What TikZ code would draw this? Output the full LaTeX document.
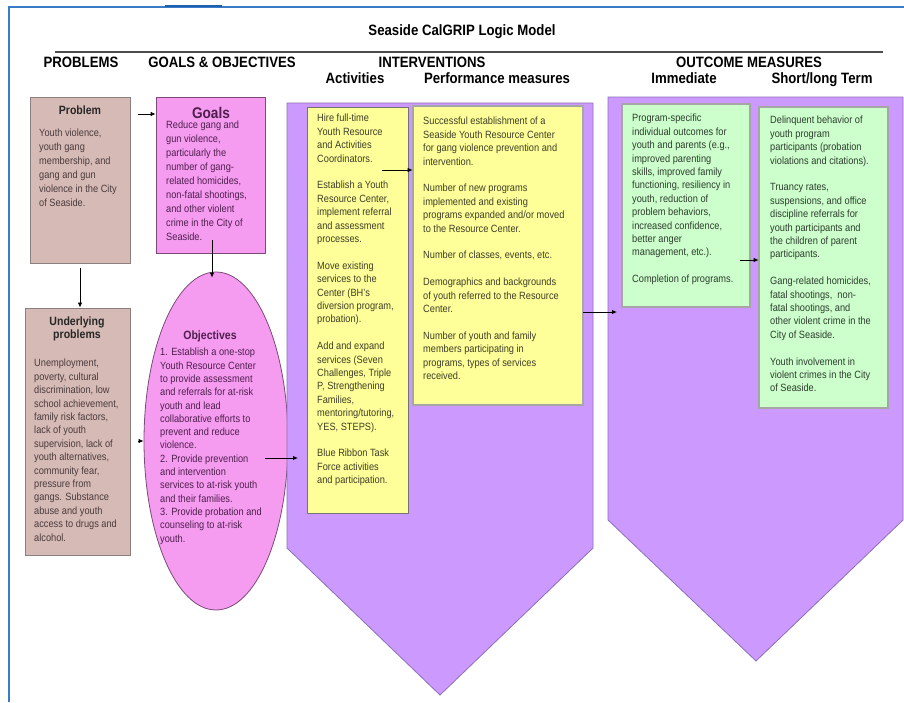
\documentclass[tikz,border=0pt]{standalone}
\usepackage{fontspec}
\setmainfont[FakeStretch=0.88]{Liberation Sans}
\usetikzlibrary{arrows.meta,shapes.geometric}
\definecolor{probfill}{HTML}{D6BAB6}
\definecolor{probline}{HTML}{8C7F7F}
\definecolor{pinkfill}{HTML}{F69CF0}
\definecolor{pinkline}{HTML}{7A4A78}
\definecolor{lavfill}{HTML}{CC99FF}
\definecolor{lavline}{HTML}{8E6FB6}
\definecolor{yelfill}{HTML}{FFFF99}
\definecolor{grnfill}{HTML}{CCFFCC}
\definecolor{framec}{HTML}{3A7BC8}
\definecolor{framedark}{HTML}{1F5FAF}
\definecolor{probtext}{HTML}{4A3C3C}
\definecolor{pinktext}{HTML}{4E1F4E}
\definecolor{yeltext}{HTML}{3E3E28}
\definecolor{grntext}{HTML}{2E3C2E}
\newcommand\bodyfs{\fontsize{10.5pt}{13.4pt}\selectfont}
\newcommand\bodyfw{\fontsize{10.5pt}{14pt}\selectfont}
\begin{document}
\begin{tikzpicture}[x=1pt,y=-1pt,
  hdr/.style={inner sep=0pt, anchor=base, font=\fontsize{15pt}{17pt}\selectfont\bfseries},
  btitle/.style={inner sep=0pt, align=center, font=\fontsize{12pt}{13.5pt}\selectfont\bfseries},
  txt/.style={anchor=north west, inner sep=0pt, align=left, font=\bodyfs},
  probbox/.style={draw=probline, line width=0.9pt, fill=probfill, inner sep=0pt},
  pinkbox/.style={draw=pinkline, line width=0.8pt, fill=pinkfill, inner sep=0pt},
  actbox/.style={draw=black!55, line width=0.8pt, fill=yelfill, inner sep=0pt},
  dblbox/.style={draw=black!70, line width=0.8pt, double=black!35, double distance=1.2pt, inner sep=0pt},
  pent/.style={draw=lavline, line width=0.8pt, fill=lavfill},
  arr/.style={draw=black, line width=0.8pt, -{Latex[length=5pt,width=4.5pt]}}
]
\useasboundingbox (0,0) rectangle (904,702);
\fill[white] (0,0) rectangle (904,702);

% frame
\draw[framec, line width=2.5pt] (9,702) -- (9,7) -- (904,7);
\draw[framedark, line width=2pt] (165,5.5) -- (222,5.5);

% title and headers
\node[hdr] (title) at (462,35) {Seaside CalGRIP Logic Model};
\draw[black!70, line width=1.5pt] (55,52) -- (883,52);
\node[hdr] (hprob) at (81,67) {PROBLEMS};
\node[hdr] (hgoal) at (222,67) {GOALS \& OBJECTIVES};
\node[hdr] (hint) at (432,67) {INTERVENTIONS};
\node[hdr] (hout) at (749,67) {OUTCOME MEASURES};
\node[hdr] (hact) at (355,83) {Activities};
\node[hdr] (hperf) at (497,83) {Performance measures};
\node[hdr] (himm) at (684,83) {Immediate};
\node[hdr] (hshort) at (822,83) {Short/long Term};

% objectives ellipse
\node[pinkbox, ellipse, minimum width=144pt, minimum height=338pt] (obj) at (216,441) {};

% pentagons
\draw[pent] (287,103) -- (593,103) -- (593,548) -- (440,695) -- (287,548) -- cycle;
\draw[pent] (608,97) -- (903,97) -- (903,520) -- (756,661) -- (608,520) -- cycle;

% boxes
\node[probbox, minimum width=100pt, minimum height=166pt] (prob) at (80,180) {};
\node[pinkbox, minimum width=109pt, minimum height=156pt] (goals) at (210.5,175) {};
\node[probbox, minimum width=105pt, minimum height=247pt] (under) at (77.5,431.5) {};
\node[actbox, minimum width=101pt, minimum height=406pt] (act) at (357.5,310) {};
\node[dblbox, fill=yelfill, minimum width=170pt, minimum height=299pt] (perf) at (498,255.5) {};
\node[dblbox, fill=grnfill, minimum width=128pt, minimum height=203pt] (imm) at (686,205.5) {};
\node[dblbox, fill=grnfill, minimum width=129pt, minimum height=301pt] (short) at (823.5,257.5) {};

% titles
\node[btitle, font=\fontsize{12pt}{13pt}\selectfont\bfseries, text=black!85] (tprob) at (80,110) {Problem};
\node[btitle, font=\fontsize{15.5pt}{16pt}\selectfont\bfseries, text=pinktext] (tgoal) at (211,113) {Goals};
\node[btitle, text=black!85] (tunder) at (77,329) {Underlying\\problems};
\node[btitle, text=pinktext] (tobj) at (210,336) {Objectives};

% texts
\node[txt, font=\bodyfw, text=probtext] (xprob) at (39,129) {Youth violence,\\youth gang\\membership, and\\gang and gun\\violence in the City\\of Seaside.};
\node[txt, font=\bodyfw, text=pinktext] (xgoal) at (166,121) {Reduce gang and\\gun violence,\\particularly the\\number of gang-\\related homicides,\\non-fatal shootings,\\and other violent\\crime in the City of\\Seaside.};
\node[txt, text=probtext] (xunder) at (34,359) {Unemployment,\\poverty, cultural\\discrimination, low\\school achievement,\\family risk factors,\\lack of youth\\supervision, lack of\\youth alternatives,\\community fear,\\pressure from\\gangs. Substance\\abuse and youth\\access to drugs and\\alcohol.};
\node[txt, font=\fontsize{10.5pt}{13.3pt}\selectfont, text=pinktext] (xobj) at (160,348) {1. Establish a one-stop\\Youth Resource Center\\to provide assessment\\and referrals for at-risk\\youth and lead\\collaborative efforts to\\prevent and reduce\\violence.\\2. Provide prevention\\and intervention\\services to at-risk youth\\and their families.\\3. Provide probation and\\counseling to at-risk\\youth.};
\node[txt, text=yeltext] (xact) at (317,114) {Hire full-time\\Youth Resource\\and Activities\\Coordinators.\\[13.4pt]Establish a Youth\\Resource Center,\\implement referral\\and assessment\\processes.\\[13.4pt]Move existing\\services to the\\Center (BH's\\diversion program,\\probation).\\[13.4pt]Add and expand\\services (Seven\\Challenges, Triple\\P, Strengthening\\Families,\\mentoring/tutoring,\\YES, STEPS).\\[13.4pt]Blue Ribbon Task\\Force activities\\and participation.};
\node[txt, text=yeltext] (xperf) at (423,117) {Successful establishment of a\\Seaside Youth Resource Center\\for gang violence prevention and\\intervention.\\[13.4pt]Number of new programs\\implemented and existing\\programs expanded and/or moved\\to the Resource Center.\\[13.4pt]Number of classes, events, etc.\\[13.4pt]Demographics and backgrounds\\of youth referred to the Resource\\Center.\\[13.4pt]Number of youth and family\\members participating in\\programs, types of services\\received.};
\node[txt, text=grntext] (ximm) at (632,114) {Program-specific\\individual outcomes for\\youth and parents (e.g.,\\improved parenting\\skills, improved family\\functioning, resiliency in\\youth, reduction of\\problem behaviors,\\increased confidence,\\better anger\\management, etc.).\\[13.4pt]Completion of programs.};
\node[txt, text=grntext] (xshort) at (770,116) {Delinquent behavior of\\youth program\\participants (probation\\violations and citations).\\[13.4pt]Truancy rates,\\suspensions, and office\\discipline referrals for\\youth participants and\\the children of parent\\participants.\\[13.4pt]Gang-related homicides,\\fatal shootings,\ \ non-\\fatal shootings, and\\other violent crime in the\\City of Seaside.\\[13.4pt]Youth involvement in\\violent crimes in the City\\of Seaside.};

% connectors
\coordinate (c1) at (138,114);
\draw[arr] (c1) -- (goals.west |- c1);
\coordinate (c2) at (212,240);
\draw[arr] (c2) -- ([yshift=-6pt]obj.north -| c2);
\draw[arr] ([yshift=-5pt]prob.south) -- (prob.south |- under.north);
\draw[arr] ([xshift=8pt]under.east |- obj.west) -- (obj.west);
\coordinate (c5) at (265,458);
\coordinate (intvin) at (298,458);
\draw[arr] (c5) -- (intvin);
\coordinate (c6) at (382,170);
\draw[arr] (c6) -- (perf.west |- c6);
\coordinate (ocin) at (617,312);
\draw[arr] (perf.east |- ocin) -- (ocin);
\coordinate (c8) at (740,260);
\draw[arr] (c8) -- (short.west |- c8);
\end{tikzpicture}
\end{document}
